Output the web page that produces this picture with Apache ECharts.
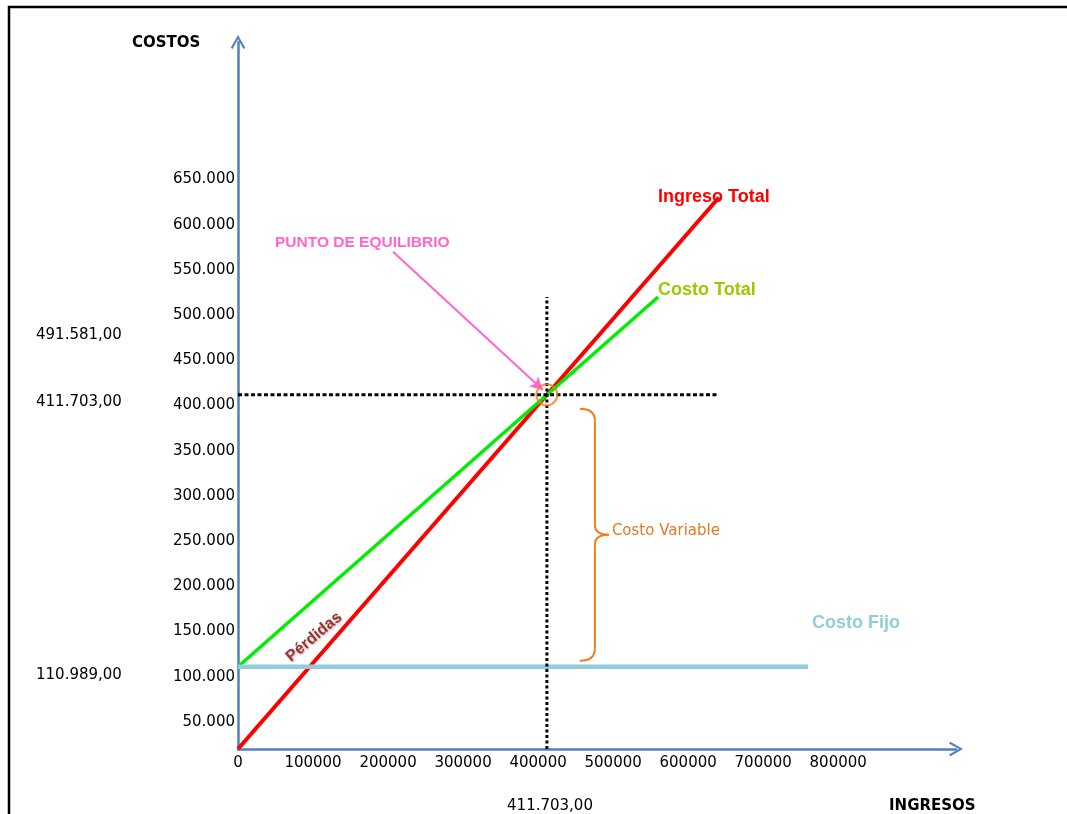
<!DOCTYPE html>
<html>
<head>
<meta charset="utf-8">
<script src="https://cdn.jsdelivr.net/npm/echarts@6/dist/echarts.min.js"></script>
<style>
  html, body { margin: 0; padding: 0; background: #ffffff; }
  #chart { width: 1067px; height: 814px; }
</style>
</head>
<body>
<div id="chart"></div>
<script>
// Axis tick values
const xTickValues = [0, 100000, 200000, 300000, 400000, 500000, 600000, 700000, 800000];
const yTickValues = [50000, 100000, 150000, 200000, 250000, 300000, 350000, 400000, 450000, 500000, 550000, 600000, 650000];

// Lines of the break-even chart: [ingresos, costos]
const ingresoTotal = [[0, 20000], [641000, 630000]];
const costoTotal = [[0, 110989], [560000, 520000]];
const costoFijo = [[0, 110989], [760000, 110989]];
const puntoEquilibrio = [411703, 411703];

// Dotted guides through the break-even point
const guiaHorizontal = [[0, 411703], [640000, 411703]];
const guiaVertical = [[411703, 20000], [411703, 520000]];

// Arrow pointing at the break-even point
const flechaDesde = [206600, 570000];
const flechaHasta = [406500, 417000];

// Reference values written beside the axes
const valoresCostos = ['491.581,00', '411.703,00', '110.989,00'];
const valorIngresos = '411.703,00';

const NUM_FONT = '"DejaVu Sans", Verdana, sans-serif';
const LBL_FONT = '"Liberation Sans", Arial, sans-serif';
const AXIS_BLUE = '#4f81bd';
const CHEVRON = 'path://M0,14 L8,0 L16,14 L14,15.5 L8,4.5 L2,15.5 Z';

const fmtMiles = v => String(v).replace(/\B(?=(\d{3})+(?!\d))/g, '.');

const chart = echarts.init(document.getElementById('chart'), null, { renderer: 'canvas' });

const option = {
  animation: false,
  backgroundColor: '#ffffff',
  grid: { left: 238, top: 42, right: 111, bottom: 65, containLabel: false },
  xAxis: {
    type: 'value',
    min: 0,
    max: 957000,
    axisLine: {
      show: true, onZero: false,
      symbol: ['none', CHEVRON], symbolSize: [16, 14],
      lineStyle: { color: AXIS_BLUE, width: 2.5 }
    },
    axisTick: { show: false },
    splitLine: { show: false },
    axisLabel: {
      customValues: xTickValues,
      formatter: v => String(v),
      margin: 7,
      color: '#000000',
      fontFamily: NUM_FONT,
      fontSize: 15
    }
  },
  yAxis: {
    type: 'value',
    min: 20000,
    max: 802000,
    axisLine: {
      show: true, onZero: false,
      symbol: ['none', CHEVRON], symbolSize: [16, 14],
      lineStyle: { color: AXIS_BLUE, width: 2.5 }
    },
    axisTick: { show: false },
    splitLine: { show: false },
    axisLabel: {
      customValues: yTickValues,
      formatter: v => fmtMiles(v),
      margin: 3,
      color: '#000000',
      fontFamily: NUM_FONT,
      fontSize: 15
    }
  },
  series: [
    {
      name: 'Ingreso Total', type: 'line', data: ingresoTotal,
      showSymbol: false, symbol: 'none', z: 3,
      lineStyle: { color: '#ff0000', width: 4 }
    },
    {
      name: 'Costo Total', type: 'line', data: costoTotal,
      showSymbol: false, symbol: 'none', z: 3,
      lineStyle: { color: '#00ee00', width: 3.5 }
    },
    {
      name: 'Costo Fijo', type: 'line', data: costoFijo,
      showSymbol: false, symbol: 'none', z: 4,
      lineStyle: { color: '#92cddc', width: 4.5 }
    },
    {
      name: 'guia-h', type: 'line', data: guiaHorizontal,
      showSymbol: false, symbol: 'none', z: 5,
      lineStyle: { color: '#000000', width: 3, type: [4, 2.5] }
    },
    {
      name: 'guia-v', type: 'line', data: guiaVertical,
      showSymbol: false, symbol: 'none', z: 5,
      lineStyle: { color: '#000000', width: 3, type: [3, 2.5] }
    },
    {
      name: 'Punto de equilibrio', type: 'scatter', data: [puntoEquilibrio],
      symbol: 'circle', symbolSize: 21, z: 6,
      itemStyle: { color: 'rgba(0,0,0,0)', borderColor: '#f07d1a', borderWidth: 2 },
      markLine: {
        silent: true,
        symbol: ['none', 'arrow'],
        symbolSize: [10, 13],
        label: { show: false },
        lineStyle: { color: '#ff66cc', width: 2, type: 'solid' },
        data: [[{ coord: flechaDesde }, { coord: flechaHasta }]]
      }
    }
  ]
};

chart.setOption(option);

// Annotations placed from the converted break-even and fixed-cost positions
const pEq = chart.convertToPixel({ gridIndex: 0 }, puntoEquilibrio);
const pFijo = chart.convertToPixel({ gridIndex: 0 }, [puntoEquilibrio[0], costoFijo[0][1]]);

const bL = pEq[0] + 33, bS = bL + 15, bT = bL + 29;
const bTop = pEq[1] + 14, bBot = pFijo[1] - 6, bMid = (bTop + bBot) / 2;
const braceStyle = { fill: 'none', stroke: '#f07d1a', lineWidth: 2 };
const curve = (x1, y1, cx, cy, x2, y2) => ({
  type: 'bezierCurve', silent: true,
  shape: { x1, y1, cpx1: cx, cpy1: cy, x2, y2 }, style: braceStyle
});
const seg = (x1, y1, x2, y2) => ({
  type: 'line', silent: true, shape: { x1, y1, x2, y2 }, style: braceStyle
});

const txt = (x, y, text, font, fill, align) => ({
  type: 'text', x, y, silent: true,
  style: { text, font, fill, align: align || 'left', verticalAlign: 'middle' }
});

chart.setOption({
  graphic: [
    { type: 'rect', silent: true, shape: { x: 9, y: 7, width: 1200, height: 1000 },
      style: { fill: 'none', stroke: '#000000', lineWidth: 2.5 } },
    txt(132, 43, 'COSTOS', 'bold 15px ' + NUM_FONT, '#000000'),
    txt(889, 806, 'INGRESOS', 'bold 15px ' + NUM_FONT, '#000000'),
    txt(36, 335, valoresCostos[0], '15px ' + NUM_FONT, '#000000'),
    txt(36, 402, valoresCostos[1], '15px ' + NUM_FONT, '#000000'),
    txt(36, 675, valoresCostos[2], '15px ' + NUM_FONT, '#000000'),
    txt(550, 806, valorIngresos, '15px ' + NUM_FONT, '#000000', 'center'),
    txt(658, 197, 'Ingreso Total', 'bold 18px ' + LBL_FONT, '#ff0000'),
    txt(658, 290, 'Costo Total', 'bold 18px ' + LBL_FONT, '#99cc00'),
    txt(812, 623, 'Costo Fijo', 'bold 18px ' + LBL_FONT, '#92cddc'),
    txt(275, 243, 'PUNTO DE EQUILIBRIO', 'bold 15.5px ' + LBL_FONT, '#ff66cc'),
    txt(bT + 3, bMid - 4, 'Costo Variable', '15px ' + NUM_FONT, '#e87722'),
    {
      type: 'group', silent: true,
      children: [
        curve(bL, bTop, bS, bTop, bS, bTop + 12),
        seg(bS, bTop + 12, bS, bMid - 10),
        curve(bS, bMid - 10, bS, bMid, bT, bMid),
        curve(bT, bMid, bS, bMid, bS, bMid + 10),
        seg(bS, bMid + 10, bS, bBot - 12),
        curve(bS, bBot - 12, bS, bBot, bL, bBot)
      ]
    },
    { type: 'text', x: 314, y: 637, rotation: 0.7, silent: true,
      style: { text: 'Pérdidas', font: 'bold 16px ' + LBL_FONT, fill: '#943634',
               align: 'center', verticalAlign: 'middle',
               textShadowColor: 'rgba(148,54,52,0.45)', textShadowBlur: 2,
               textShadowOffsetX: 1, textShadowOffsetY: 1 } }
  ]
});
</script>
</body>
</html>
